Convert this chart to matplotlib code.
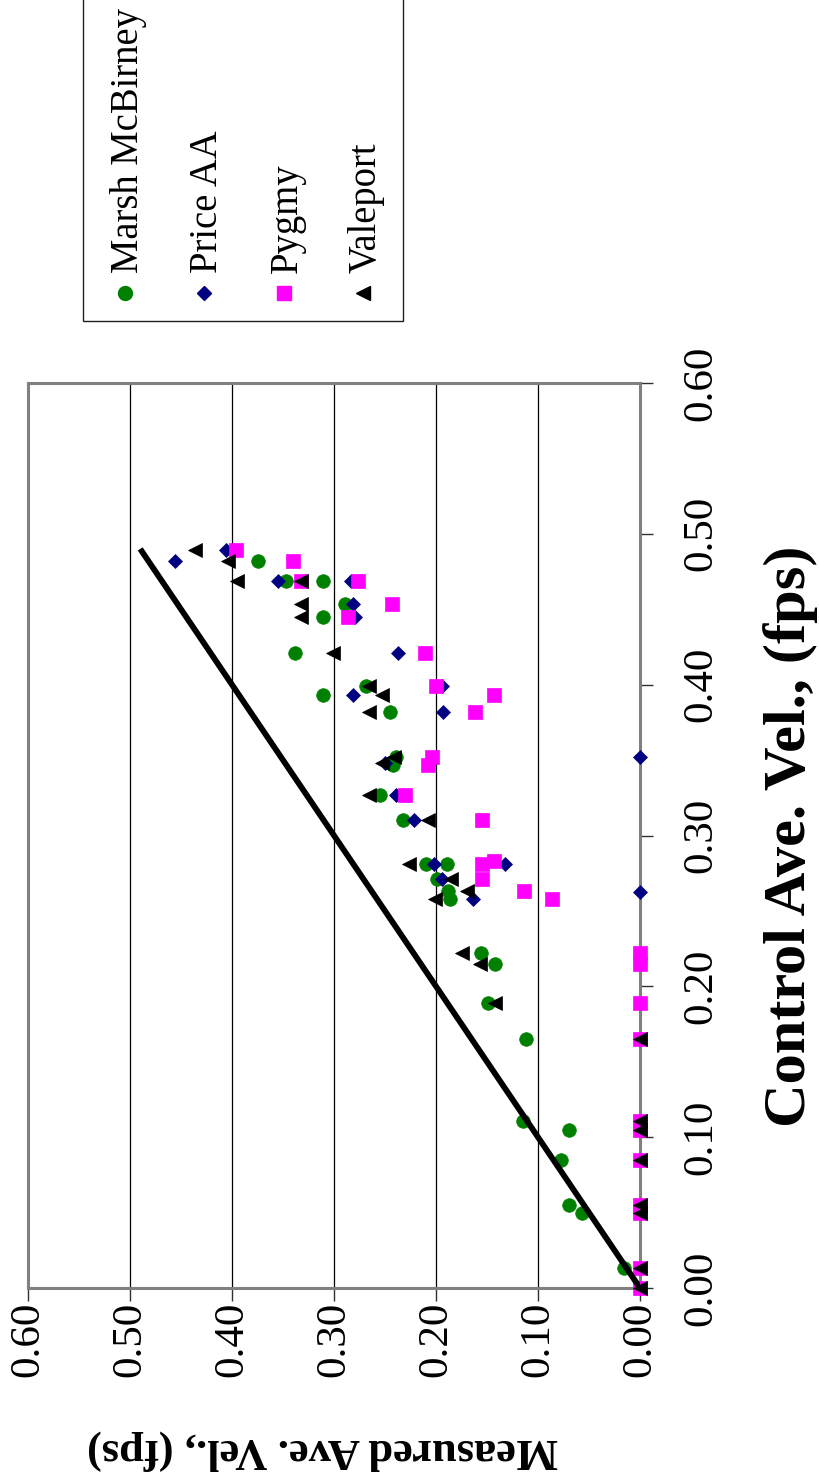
import matplotlib
matplotlib.use("Agg")
import matplotlib.pyplot as plt
from matplotlib.patches import Rectangle

plt.rcParams['font.family'] = ['Liberation Serif', 'DejaVu Serif']

# ---------------- data (measured, control) ----------------
series_names = ["Marsh McBirney", "Price AA", "Pygmy", "Valeport"]

marsh_measured = [0.375, 0.347, 0.311, 0.289, 0.311, 0.338, 0.269, 0.311, 0.245, 0.239,
                  0.242, 0.255, 0.232, 0.210, 0.189, 0.199, 0.188, 0.186, 0.156, 0.142,
                  0.149, 0.112, 0.115, 0.070, 0.077, 0.070, 0.057, 0.016]
marsh_control = [0.482, 0.469, 0.469, 0.4535, 0.445, 0.421, 0.399, 0.393, 0.382, 0.352,
                 0.347, 0.327, 0.310, 0.281, 0.281, 0.271, 0.263, 0.258, 0.222, 0.215,
                 0.189, 0.165, 0.111, 0.105, 0.085, 0.055, 0.050, 0.013]

price_measured = [0.406, 0.456, 0.355, 0.283, 0.281, 0.279, 0.237, 0.194, 0.281, 0.193,
                  0.250, 0.239, 0.222, 0.202, 0.132, 0.194, 0.164, 0.000, 0.000]
price_control = [0.489, 0.482, 0.469, 0.469, 0.4535, 0.445, 0.421, 0.399, 0.393, 0.382,
                 0.348, 0.327, 0.310, 0.281, 0.281, 0.271, 0.258, 0.352, 0.2625]

pygmy_measured = [0.396, 0.340, 0.332, 0.276, 0.243, 0.286, 0.211, 0.200, 0.143, 0.162,
                  0.204, 0.2075, 0.230, 0.155, 0.155, 0.143, 0.155, 0.114, 0.086,
                  0.0, 0.0, 0.0, 0.0, 0.0, 0.0, 0.0, 0.0, 0.0, 0.0, 0.0]
pygmy_control = [0.489, 0.482, 0.469, 0.469, 0.4535, 0.445, 0.421, 0.399, 0.393, 0.382,
                 0.352, 0.347, 0.327, 0.310, 0.281, 0.283, 0.271, 0.263, 0.258,
                 0.222, 0.215, 0.189, 0.165, 0.111, 0.105, 0.085, 0.055, 0.050, 0.013, 0.0]

valeport_measured = [0.436, 0.404, 0.395, 0.332, 0.332, 0.332, 0.301, 0.266, 0.253, 0.266,
                     0.253, 0.241, 0.266, 0.2075, 0.226, 0.185, 0.170, 0.201, 0.175, 0.157,
                     0.142, 0.0, 0.0, 0.0, 0.0, 0.0, 0.0, 0.0, 0.0]
valeport_control = [0.489, 0.482, 0.469, 0.469, 0.4535, 0.445, 0.421, 0.399, 0.393, 0.382,
                    0.348, 0.352, 0.327, 0.310, 0.281, 0.271, 0.263, 0.258, 0.222, 0.215,
                    0.189, 0.165, 0.111, 0.105, 0.085, 0.055, 0.050, 0.013, 0.0]

line_measured = [0.0, 0.49]
line_control = [0.0, 0.49]

tick_values = [0.0, 0.1, 0.2, 0.3, 0.4, 0.5, 0.6]
tick_labels = ["0.00", "0.10", "0.20", "0.30", "0.40", "0.50", "0.60"]

x_title = "Control Ave. Vel., (fps)"
y_title = "Measured Ave. Vel., (fps)"

# ---------------- figure ----------------
W, H = 819, 1482
fig = plt.figure(figsize=(W / 100, H / 100), dpi=100)
fig.patch.set_facecolor("white")

ax = fig.add_axes([28 / W, (H - 1288) / H, 612 / W, 905 / H])
ax.set_xlim(0.6, 0.0)
ax.set_ylim(0.0, 0.6)

styles = [
    dict(marker="o", color="#008000", ms=9.8),
    dict(marker="D", color="#000080", ms=7.0),
    dict(marker="s", color="#FF00FF", ms=10.0),
    dict(marker="<", color="#000000", ms=10.2),
]
data = [(marsh_measured, marsh_control), (price_measured, price_control),
        (pygmy_measured, pygmy_control), (valeport_measured, valeport_control)]
for i, ((mx, cy), st) in enumerate(zip(data, styles)):
    ax.plot(mx, cy, linestyle="none", marker=st["marker"], markersize=st["ms"],
            markerfacecolor=st["color"], markeredgecolor=st["color"],
            markeredgewidth=0.5, zorder=3 + i, clip_on=False)

ax.plot(line_measured, line_control, color="black", lw=4.2, zorder=8,
        solid_capstyle="butt")

ax.set_xticks(tick_values)
ax.set_xticklabels(tick_labels)
ax.yaxis.tick_right()
ax.set_yticks(tick_values)
ax.set_yticklabels(tick_labels)
ax.tick_params(axis="x", direction="out", length=9, width=1, color="#303030",
               labelrotation=90, pad=1, labelsize=31)
ax.tick_params(axis="y", direction="out", length=9, width=1, color="#303030",
               labelrotation=90, pad=21, labelsize=31)
for lbl in ax.get_yticklabels():
    lbl.set_verticalalignment("center")
    lbl.set_horizontalalignment("left")

ax.xaxis.grid(True, color="black", lw=0.9)
ax.yaxis.grid(False)
ax.set_axisbelow(True)
for sp in ax.spines.values():
    sp.set_color("#808080")
    sp.set_linewidth(2.2)

# ---------------- overlay (pixel coords) for titles & legend ----------------
lax = fig.add_axes([0, 0, 1, 1], facecolor="none")
lax.set_xlim(0, W)
lax.set_ylim(H, 0)
lax.axis("off")

lax.text(791, 836, x_title, rotation=90, ha="center", va="center",
         fontsize=43.5, fontweight="bold")
lax.text(322, 1450, y_title, rotation=180, ha="center", va="center",
         fontsize=32, fontweight="bold")

lax.add_patch(Rectangle((83, -5), 320, 326, facecolor="white",
                        edgecolor="#202020", lw=1.0))
key_x = [125, 204, 284, 363]
key_ms = [10.0, 7.2, 10.5, 10.0]
for name, st, kx, kms in zip(series_names, styles, key_x, key_ms):
    lax.plot([kx], [293], linestyle="none", marker=st["marker"], markersize=kms,
             markerfacecolor=st["color"], markeredgecolor=st["color"])
    lax.text(kx + 13, 273, name, rotation=90, rotation_mode="anchor",
             ha="left", va="baseline", fontsize=27.8)

fig.savefig("out.png", dpi=100)
